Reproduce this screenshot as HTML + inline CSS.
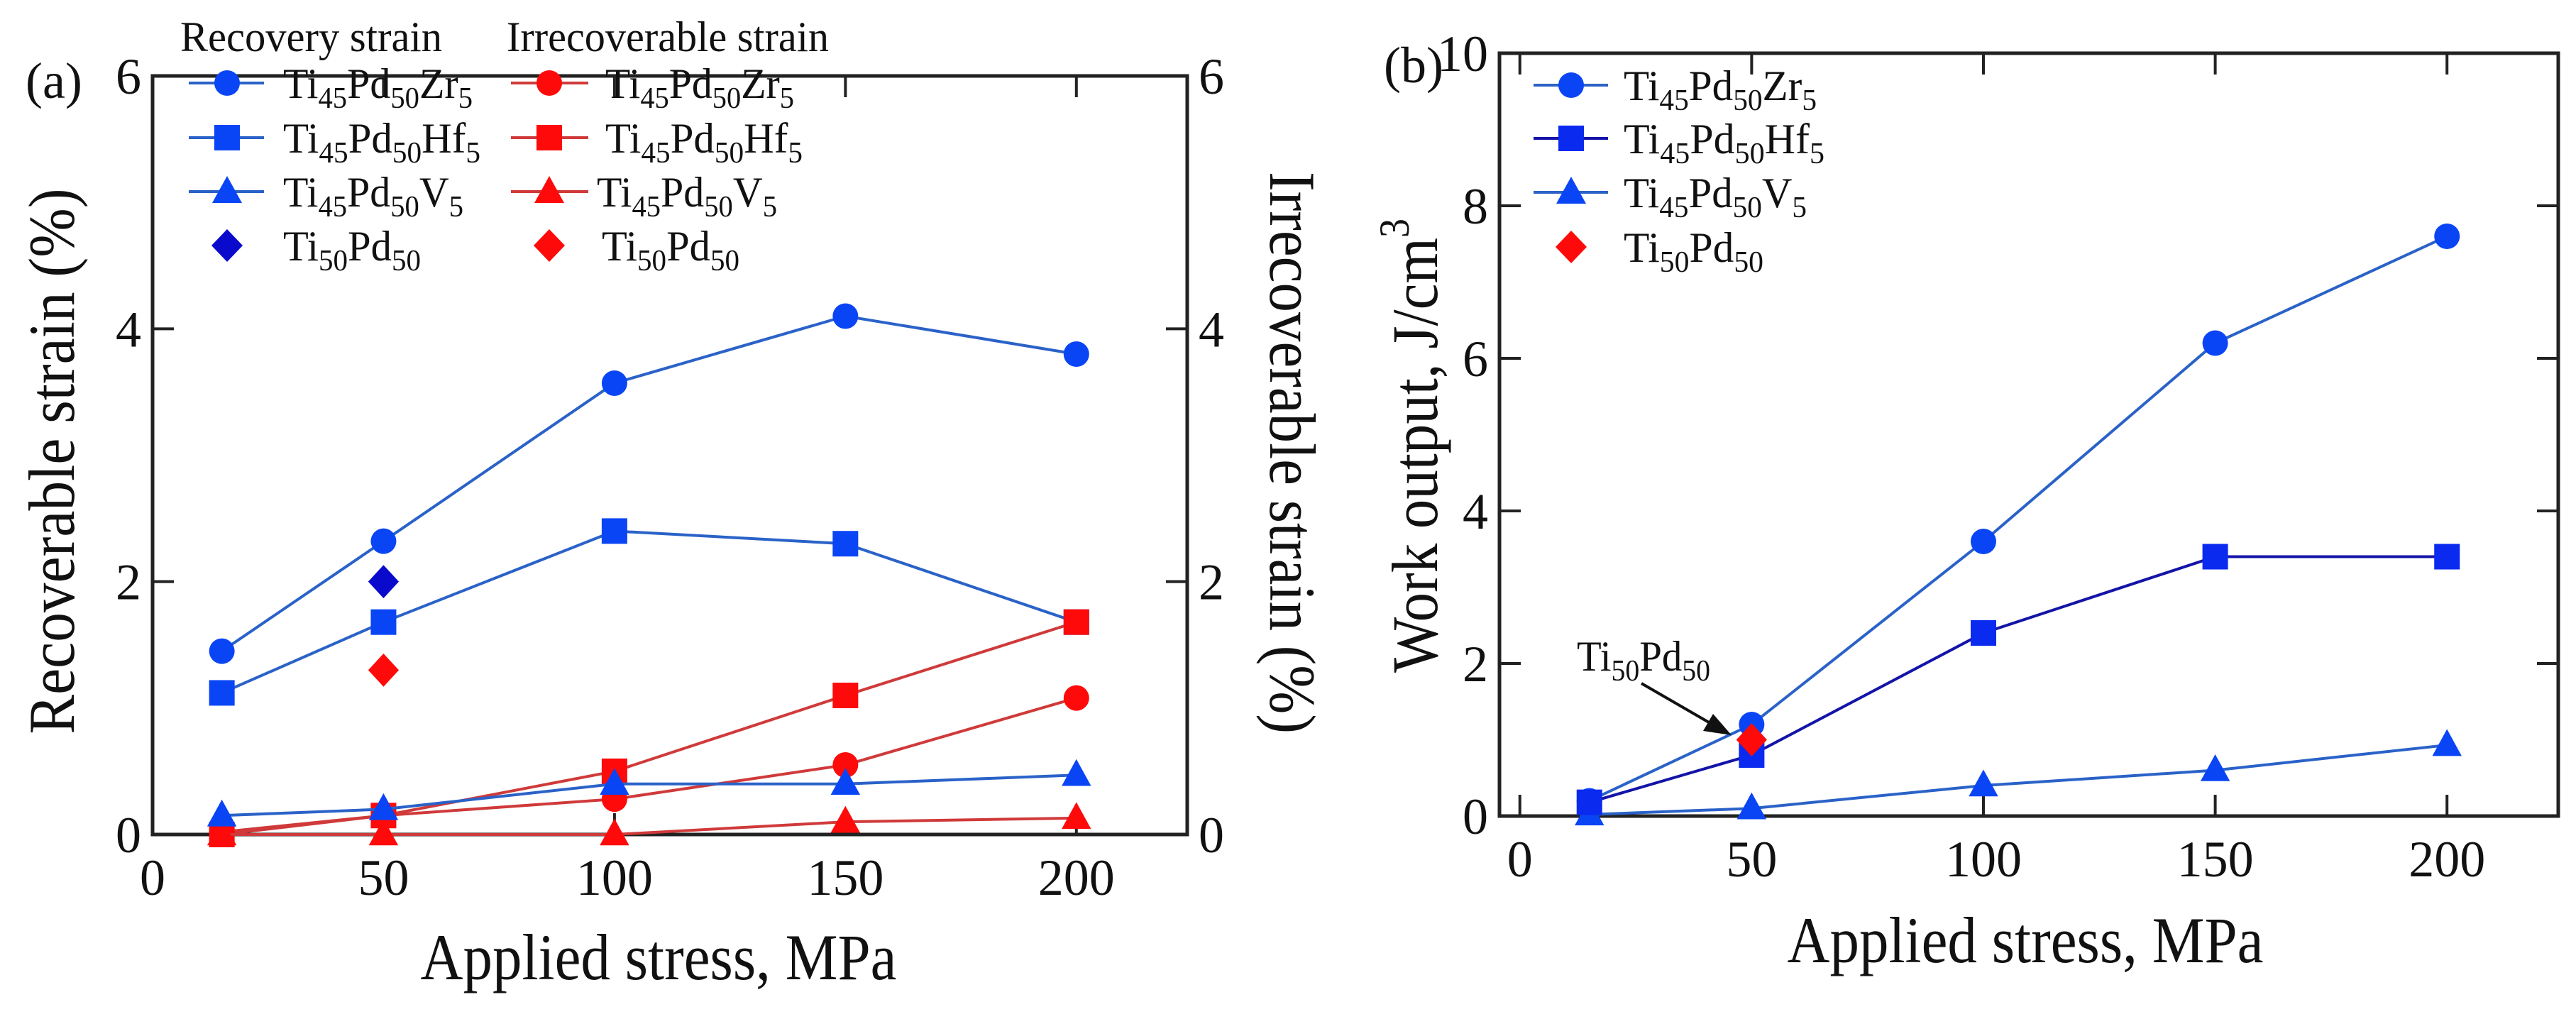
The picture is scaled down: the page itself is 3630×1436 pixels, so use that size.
<!DOCTYPE html>
<html><head><meta charset="utf-8"><style>
html,body{margin:0;padding:0;background:#fff;}
svg{display:block;font-family:"Liberation Serif",serif;}
</style></head><body>
<svg id="chart" width="3630" height="1436" viewBox="0 0 3630 1436"></svg>
<script>
// ---- data ----
const stressA = [15, 50, 100, 150, 200];
const recZr = [1.45, 2.32, 3.57, 4.1, 3.8];
const recHf = [1.12, 1.68, 2.4, 2.3, 1.68];
const recV = [0.15, 0.2, 0.4, 0.4, 0.47];
const irrZr = [0.02, 0.15, 0.28, 0.55, 1.08];
const irrHf = [0.0, 0.15, 0.5, 1.1, 1.68];
const irrV = [0.0, 0.0, 0.0, 0.1, 0.13];
const tiPdX = [50];
const recTiPd = [2.0];
const irrTiPd = [1.3];
const stressB = [15, 50, 100, 150, 200];
const workZr = [0.2, 1.2, 3.6, 6.2, 7.6];
const workHf = [0.18, 0.8, 2.4, 3.4, 3.4];
const workV = [0.02, 0.1, 0.4, 0.6, 0.93];
const workTiPd = [1.0];
const xTicks = [0, 50, 100, 150, 200];
const yTicksA = [0, 2, 4, 6];
const yTicksB = [0, 2, 4, 6, 8, 10];

const NS = "http://www.w3.org/2000/svg";
const svg = document.getElementById('chart');
function mk(tag, attrs, parent) {
  const e = document.createElementNS(NS, tag);
  for (const k in attrs) e.setAttribute(k, attrs[k]);
  (parent || svg).appendChild(e);
  return e;
}
const BLUE = '#0a45f5', BLUEL = '#2a62c8', DBLUE = '#1414a8', RED = '#ff0a0a', REDL = '#d03a3a';

const A = {l: 215, r: 1673, t: 107, b: 1176, x0: 0, x1: 224, y0: 0, y1: 6};
const B = {l: 2113, r: 3605, t: 75, b: 1150, x0: -4.4, x1: 224, y0: 0, y1: 10};
function xs(P, v) { return P.l + (v - P.x0) / (P.x1 - P.x0) * (P.r - P.l); }
function ys(P, v) { return P.b - (v - P.y0) / (P.y1 - P.y0) * (P.b - P.t); }

function marker(g, shape, cx, cy, color, s) {
  let e;
  if (shape === 'circle') e = mk('circle', {cx: cx, cy: cy, r: s, fill: color}, g);
  else if (shape === 'square') e = mk('rect', {x: cx - s, y: cy - s, width: 2 * s, height: 2 * s, fill: color}, g);
  else if (shape === 'triangle') e = mk('polygon', {points: `${cx},${cy - s * 1.25} ${cx - s * 1.15},${cy + s * 0.85} ${cx + s * 1.15},${cy + s * 0.85}`, fill: color}, g);
  else e = mk('polygon', {points: `${cx},${cy - s * 1.3} ${cx + s * 1.2},${cy} ${cx},${cy + s * 1.3} ${cx - s * 1.2},${cy}`, fill: color}, g);
  return e;
}
function series(P, name, xsArr, vals, shape, mcol, lcol, line) {
  const g = mk('g', {});
  
  
  if (line) {
    const pts = xsArr.map((x, i) => xs(P, x) + ',' + ys(P, vals[i])).join(' ');
    mk('polyline', {points: pts, fill: 'none', stroke: lcol, 'stroke-width': 4}, g);
  }
  xsArr.forEach((x, i) => {
    const m = marker(g, shape, xs(P, x), ys(P, vals[i]), mcol, 18);
    
    
  });
}
function frame(P, name, yTicks, rightLabels) {
  const g = mk('g', {});
  
  
  mk('rect', {x: P.l, y: P.t, width: P.r - P.l, height: P.b - P.t, fill: 'none', stroke: '#222', 'stroke-width': 5}, g);
  xTicks.forEach(v => {
    const x = xs(P, v);
    mk('line', {x1: x, y1: P.b, x2: x, y2: P.b - 30, stroke: '#222', 'stroke-width': 4}, g);
    mk('line', {x1: x, y1: P.t, x2: x, y2: P.t + 30, stroke: '#222', 'stroke-width': 4}, g);
    const t = mk('text', {x: x, y: P.b + 85, 'font-size': 72, 'text-anchor': 'middle', fill: '#111'}, g);
    t.textContent = v;
    
    
  });
  yTicks.forEach(v => {
    const y = ys(P, v);
    mk('line', {x1: P.l, y1: y, x2: P.l + 30, y2: y, stroke: '#222', 'stroke-width': 4}, g);
    mk('line', {x1: P.r, y1: y, x2: P.r - 30, y2: y, stroke: '#222', 'stroke-width': 4}, g);
    const t = mk('text', {x: P.l - 16, y: y + 25, 'font-size': 72, 'text-anchor': 'end', fill: '#111'}, g);
    t.textContent = v;
    
    
    if (rightLabels) {
      const t2 = mk('text', {x: P.r + 16, y: y + 25, 'font-size': 72, 'text-anchor': 'start', fill: '#111'}, g);
      t2.textContent = v;
      
      
    }
  });
}
frame(A, 'panel-a-axes', yTicksA, true);
frame(B, 'panel-b-axes', yTicksB, false);

series(A, 'rec-zr', stressA, recZr, 'circle', BLUE, BLUEL, true);
series(A, 'rec-hf', stressA, recHf, 'square', BLUE, BLUEL, true);
series(A, 'irr-zr', stressA, irrZr, 'circle', RED, REDL, true);
series(A, 'irr-hf', stressA, irrHf, 'square', RED, REDL, true);
series(A, 'irr-v', stressA, irrV, 'triangle', RED, REDL, true);
series(A, 'rec-v', stressA, recV, 'triangle', BLUE, BLUEL, true);
series(A, 'rec-tipd', tiPdX, recTiPd, 'diamond', '#0a0acc', null, false);
series(A, 'irr-tipd', tiPdX, irrTiPd, 'diamond', RED, null, false);

series(B, 'work-v', stressB, workV, 'triangle', BLUE, BLUEL, true);
series(B, 'work-zr', stressB, workZr, 'circle', BLUE, BLUEL, true);
series(B, 'work-hf', stressB, workHf, 'square', '#0a2af0', DBLUE, true);
series(B, 'work-tipd', tiPdX, workTiPd, 'diamond', RED, null, false);
</script>
<script>
(function(){
const NS = "http://www.w3.org/2000/svg";
const svg = document.getElementById('chart');
function add(html){ const g = document.createElementNS(NS,'g'); g.innerHTML = html; svg.appendChild(g); return g; }
function ent(x, y, text, w) {
  return `<text x="${x}" y="${y}" font-size="60" fill="#111" textLength="${w}" lengthAdjust="spacingAndGlyphs">Ti<tspan font-size="42" dy="14">45</tspan><tspan dy="-14">Pd</tspan><tspan font-size="42" dy="14">50</tspan><tspan dy="-14">${text}</tspan><tspan font-size="42" dy="14">5</tspan></text>`;
}
function tipd(x, y, w) {
  return `<text x="${x}" y="${y}" font-size="60" fill="#111" textLength="${w}" lengthAdjust="spacingAndGlyphs">Ti<tspan font-size="42" dy="14">50</tspan><tspan dy="-14">Pd</tspan><tspan font-size="42" dy="14">50</tspan></text>`;
}
function legRow(lx1, lx2, mx, y, col, lcol, shape){
  let m;
  if (shape==='c') m=`<circle cx="${mx}" cy="${y}" r="18" fill="${col}"/>`;
  else if (shape==='s') m=`<rect x="${mx-18}" y="${y-18}" width="36" height="36" fill="${col}"/>`;
  else if (shape==='t') m=`<polygon points="${mx},${y-22} ${mx-21},${y+16} ${mx+21},${y+16}" fill="${col}"/>`;
  else m=`<polygon points="${mx},${y-23} ${mx+22},${y} ${mx},${y+23} ${mx-22},${y}" fill="${col}"/>`;
  const l = lcol ? `<line x1="${lx1}" y1="${y}" x2="${lx2}" y2="${y}" stroke="${lcol}" stroke-width="4"/>` : '';
  return l + m;
}
const B='#0a45f5', BL='#2a62c8', R='#ff0a0a', RL='#d03a3a';
const ga = add(
 `<text x="254" y="72" font-size="60" fill="#111" textLength="369" lengthAdjust="spacingAndGlyphs">Recovery strain</text>
  <text x="714" y="72" font-size="60" fill="#111" textLength="454" lengthAdjust="spacingAndGlyphs">Irrecoverable strain</text>` +
 legRow(266,372,320,117,B,BL,'c') + ent(399,138,'Zr',267) +
 legRow(266,372,320,194,B,BL,'s') + ent(399,215,'Hf',278) +
 legRow(266,372,320,270,B,BL,'t') + ent(399,291,'V',254) +
 legRow(0,0,320,346,'#0a0acc',null,'d') + tipd(399,367,194) +
 legRow(720,829,774,117,R,RL,'c') + ent(853,138,'Zr',266) +
 legRow(720,829,774,194,R,RL,'s') + ent(853,215,'Hf',278) +
 legRow(720,829,774,270,R,RL,'t') + ent(841,291,'V',254) +
 legRow(0,0,774,346,R,null,'d') + tipd(848,367,194));


const gb = add(
 legRow(2161,2266,2214,120,B,BL,'c') + ent(2288,141,'Zr',272) +
 legRow(2161,2266,2214,195,'#0a2af0','#1414a8','s') + ent(2288,216,'Hf',283) +
 legRow(2161,2266,2214,271,B,BL,'t') + ent(2288,292,'V',258) +
 legRow(0,0,2214,348,R,null,'d') + tipd(2288,369,197));


const gt = add(
 `<text x="36" y="138" font-size="72" fill="#111">(a)</text>
  <text x="1950" y="116" font-size="72" fill="#111">(b)</text>
  <text x="928" y="1380" font-size="92" text-anchor="middle" fill="#111" textLength="671" lengthAdjust="spacingAndGlyphs">Applied stress, MPa</text>
  <text x="2854" y="1356" font-size="92" text-anchor="middle" fill="#111" textLength="671" lengthAdjust="spacingAndGlyphs">Applied stress, MPa</text>
  <text transform="translate(104,650) rotate(-90)" font-size="92" text-anchor="middle" fill="#111" textLength="769" lengthAdjust="spacingAndGlyphs">Recoverable strain (%)</text>
  <text transform="translate(1790,638) rotate(90)" font-size="92" text-anchor="middle" fill="#111" textLength="792" lengthAdjust="spacingAndGlyphs">Irrecoverable strain (%)</text>
  <text transform="translate(2025,628) rotate(-90)" font-size="92" text-anchor="middle" fill="#111" textLength="640" lengthAdjust="spacingAndGlyphs">Work output, J/cm<tspan font-size="60" dy="-40">3</tspan></text>` +
  tipd(2222,945,188) +
 `<line x1="2313" y1="963" x2="2415" y2="1022" stroke="#111" stroke-width="4"/>
  <polygon points="2440,1036 2400,1030 2414,1006" fill="#111"/>`);


})();
</script>
</body></html>
